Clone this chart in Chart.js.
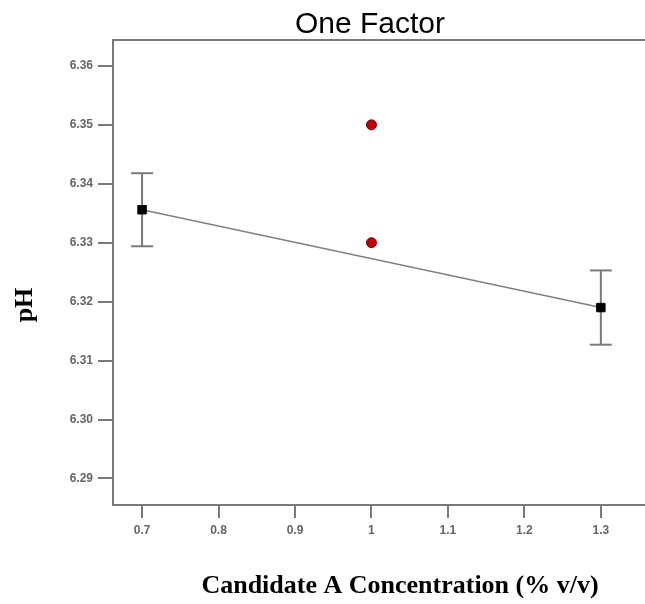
<!DOCTYPE html>
<html>
<head>
<meta charset="utf-8">
<style>
  html, body { margin: 0; padding: 0; background: #fff; overflow: hidden; }
  #wrap { width: 680px; height: 604px; position: relative; }
</style>
<script src="https://cdn.jsdelivr.net/npm/chart.js@4/dist/chart.umd.min.js"></script>
</head>
<body>
<div id="wrap"><canvas id="c" width="680" height="604"></canvas></div>
<script>
// Factor levels and the model's predicted pH at each end of the range
const factorLevels = [0.7, 1.3];
const predictedPH = [6.3356, 6.3190];
// Half-width of the confidence interval at each level
const intervalHalf = [0.0062, 0.0063];
// Observed design points at the centre level
const centreLevels = [1, 1];
const centrePH = [6.35, 6.33];
// Axis ticks
const xTickValues = [0.7, 0.8, 0.9, 1, 1.1, 1.2, 1.3];
const yTickValues = [6.29, 6.30, 6.31, 6.32, 6.33, 6.34, 6.35, 6.36];

const chartTitle = 'One Factor';
const xTitle = 'Candidate A Concentration (% v/v)';
const yTitle = 'pH';

const GRAY = '#7a7a7a';

// Interval bars: vertical segment with flat caps drawn as 'line' points
const intervalSets = factorLevels.map((x, i) => ({
  type: 'scatter',
  data: [{ x: x, y: predictedPH[i] - intervalHalf[i] }, { x: x, y: predictedPH[i] + intervalHalf[i] }],
  showLine: true,
  borderColor: GRAY,
  borderWidth: 2,
  pointStyle: 'line',
  pointRadius: 11,
  pointHoverRadius: 11,
  pointBorderColor: GRAY,
  pointBorderWidth: 2,
  order: 3
}));

const framePlugin = {
  id: 'frameAndTitles',
  beforeDatasetsDraw(chart) {
    const { ctx, chartArea: a } = chart;
    ctx.save();
    ctx.strokeStyle = GRAY;
    ctx.lineWidth = 2;
    ctx.strokeRect(a.left, a.top, a.right - a.left, a.bottom - a.top);
    ctx.restore();
  },
  afterDraw(chart) {
    const { ctx } = chart;
    ctx.save();
    ctx.fillStyle = '#000';
    ctx.textAlign = 'center';
    ctx.textBaseline = 'alphabetic';
    ctx.font = '30px "Liberation Sans", Arial, sans-serif';
    ctx.fillText(chartTitle, 370, 33);
    ctx.font = 'bold 26px "Liberation Serif", "Times New Roman", serif';
    ctx.fillText(xTitle, 400, 593);
    ctx.translate(32, 305);
    ctx.rotate(-Math.PI / 2);
    ctx.fillText(yTitle, 0, 0);
    ctx.restore();
  }
};

new Chart(document.getElementById('c'), {
  type: 'scatter',
  data: {
    datasets: [
      {
        type: 'scatter',
        data: factorLevels.map((x, i) => ({ x: x, y: predictedPH[i] })),
        showLine: true,
        borderColor: '#808080',
        borderWidth: 1.5,
        pointStyle: 'rect',
        pointRadius: 6,
        pointHoverRadius: 6,
        pointBackgroundColor: '#000',
        pointBorderColor: '#000',
        pointBorderWidth: 1,
        order: 1
      },
      ...intervalSets,
      {
        type: 'scatter',
        data: centreLevels.map((x, i) => ({ x: x, y: centrePH[i] })),
        pointStyle: 'circle',
        pointRadius: 5,
        pointHoverRadius: 5,
        pointBackgroundColor: '#c00000',
        pointBorderColor: '#5a1010',
        pointBorderWidth: 1,
        order: 0
      }
    ]
  },
  options: {
    responsive: false,
    animation: false,
    events: [],
    layout: { padding: { top: 40, right: 4, left: 0, bottom: 0 } },
    plugins: { legend: { display: false }, tooltip: { enabled: false }, title: { display: false } },
    scales: {
      x: {
        type: 'linear',
        min: 0.662,
        max: 1.3865,
        afterFit(s) { s.height = 99; },
        afterBuildTicks(s) { s.ticks = xTickValues.map(v => ({ value: v })); },
        border: { display: false },
        grid: { drawOnChartArea: false, drawTicks: true, tickLength: 13, color: GRAY, lineWidth: 2 },
        ticks: {
          padding: 5,
          color: '#666',
          font: { family: '"Liberation Sans", Arial, sans-serif', size: 12, weight: 'bold' },
          callback: v => String(Math.round(v * 10) / 10),
          maxRotation: 0
        }
      },
      y: {
        type: 'linear',
        min: 6.2855,
        max: 6.3644,
        afterFit(s) { s.width = 113; },
        afterBuildTicks(s) { s.ticks = yTickValues.map(v => ({ value: v })); },
        border: { display: false },
        grid: { drawOnChartArea: false, drawTicks: true, tickLength: 15, color: GRAY, lineWidth: 2 },
        ticks: {
          padding: 5,
          color: '#666',
          font: { family: '"Liberation Sans", Arial, sans-serif', size: 12, weight: 'bold' },
          callback: v => v.toFixed(2)
        }
      }
    }
  },
  plugins: [framePlugin]
});
</script>
</body>
</html>
